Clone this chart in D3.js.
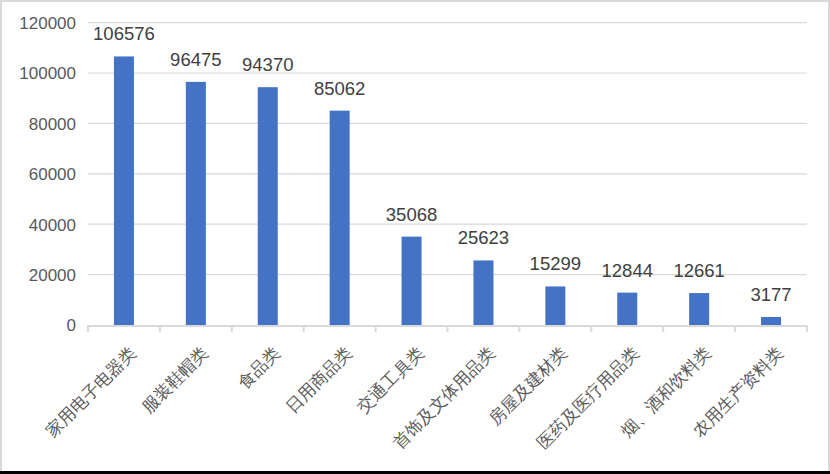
<!DOCTYPE html>
<html>
<head>
<meta charset="utf-8">
<script src="https://cdn.jsdelivr.net/npm/d3@7"></script>
<style>
  body { margin: 0; background: #fff; }
  text { font-family: "Liberation Sans", Arial, sans-serif; }
</style>
</head>
<body>
<svg id="chart" width="830" height="474"></svg>
<script>
// categories and values
const categories = ["家用电子电器类", "服装鞋帽类", "食品类", "日用商品类", "交通工具类",
  "首饰及文体用品类", "房屋及建材类", "医药及医疗用品类", "烟、酒和饮料类", "农用生产资料类"];
const values = [106576, 96475, 94370, 85062, 35068, 25623, 15299, 12844, 12661, 3177];
const yTicks = [0, 20000, 40000, 60000, 80000, 100000, 120000];

const W = 830, H = 474;
const margin = { left: 88, right: 23, top: 22.6, bottom: 149 };

const svg = d3.select("#chart");

// cadre
svg.append("rect")
  .attr("x", 1).attr("y", 1)
  .attr("width", W - 2).attr("height", H - 3)
  .attr("fill", "#fff")
  .attr("stroke", "#d9d9d9")
  .attr("stroke-width", 2);
svg.append("line")
  .attr("x1", 0).attr("x2", W)
  .attr("y1", H - 1.5).attr("y2", H - 1.5)
  .attr("stroke", "#000")
  .attr("stroke-width", 3);

const x = d3.scaleBand()
  .domain(categories)
  .range([margin.left, W - margin.right]);

const y = d3.scaleLinear()
  .domain([0, 120000])
  .range([H - margin.bottom, margin.top]);

// grille
svg.append("g")
  .selectAll("line")
  .data(yTicks.slice(1))
  .join("line")
  .attr("x1", margin.left).attr("x2", W - margin.right)
  .attr("y1", d => y(d)).attr("y2", d => y(d))
  .attr("stroke", "#d9d9d9")
  .attr("stroke-width", 1.2);

// axe y (labels seulement)
const yAxis = svg.append("g")
  .attr("transform", "translate(" + (margin.left - 12) + ",0)")
  .call(d3.axisLeft(y).tickValues(yTicks).tickFormat(d3.format("d")).tickSize(0).tickPadding(0));
yAxis.select(".domain").remove();
yAxis.selectAll("text")
  .attr("font-size", 17)
  .attr("fill", "#595959")
  .attr("font-family", "'Liberation Sans', Arial, sans-serif")
  .attr("dy", "0.35em");

// barres
const barW = 20;
svg.append("g")
  .selectAll("rect")
  .data(values)
  .join("rect")
  .attr("x", (d, i) => x(categories[i]) + x.bandwidth() / 2 - barW / 2)
  .attr("y", d => y(d))
  .attr("width", barW)
  .attr("height", d => y(0) - y(d))
  .attr("fill", "#4472c4");

// etiquettes de valeurs
svg.append("g")
  .selectAll("text")
  .data(values)
  .join("text")
  .attr("x", (d, i) => x(categories[i]) + x.bandwidth() / 2)
  .attr("y", d => y(d) - 16)
  .attr("text-anchor", "middle")
  .attr("font-size", 18.5)
  .attr("fill", "#404040")
  .text(d => d);

// axe x
const x0 = y(0);
svg.append("line")
  .attr("x1", margin.left).attr("x2", W - margin.right)
  .attr("y1", x0 + 1).attr("y2", x0 + 1)
  .attr("stroke", "#d9d9d9")
  .attr("stroke-width", 2);
const bounds = categories.map(c => x(c)).concat([W - margin.right]);
svg.append("g")
  .selectAll("line")
  .data(bounds)
  .join("line")
  .attr("x1", d => d).attr("x2", d => d)
  .attr("y1", x0).attr("y2", x0 + 7)
  .attr("stroke", "#d9d9d9")
  .attr("stroke-width", 2);

// libelles categories
svg.append("g")
  .selectAll("text")
  .data(categories)
  .join("text")
  .attr("transform", d => "translate(" + (x(d) + x.bandwidth() / 2 + 13) + "," + (x0 + 29) + ") rotate(-45)")
  .attr("text-anchor", "end")
  .attr("font-family", "'Noto Sans CJK SC', sans-serif")
  .attr("font-size", 17)
  .attr("fill", "#595959")
  .text(d => d);
</script>
</body>
</html>
